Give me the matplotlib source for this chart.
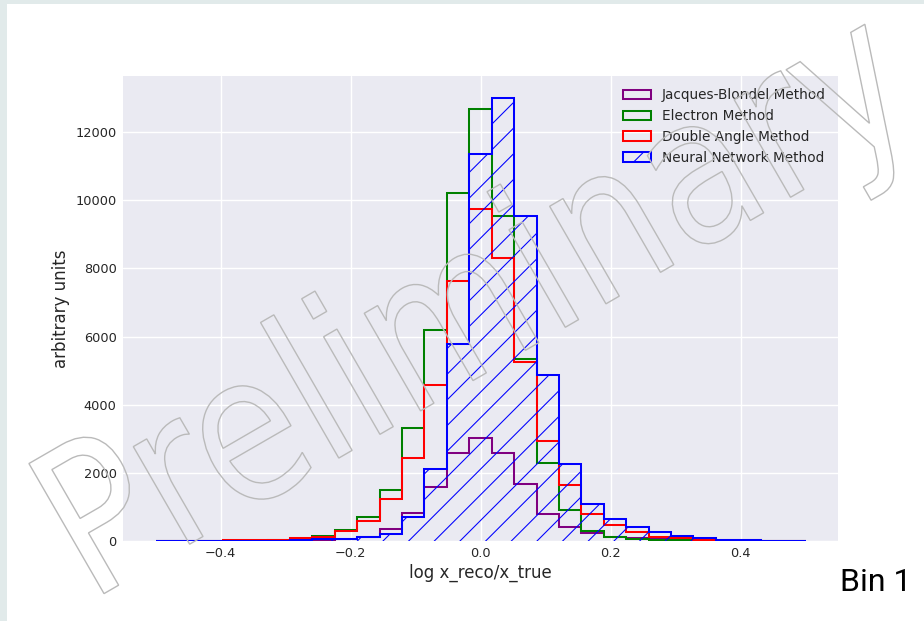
import numpy as np
import matplotlib
matplotlib.use("Agg")
import matplotlib.pyplot as plt
from matplotlib.textpath import TextPath
from matplotlib.patches import PathPatch, Rectangle
from matplotlib.font_manager import FontProperties
from matplotlib.transforms import Affine2D

# 29 bins over [-0.5, 0.5]
bin_edges = np.linspace(-0.5, 0.5, 30)

jacques_blondel = [0, 0, 0, 0, 0, 2, 10, 30, 60, 120, 352, 812, 1592, 2571, 3011,
                   2589, 1671, 806, 410, 235, 126, 79, 45, 25, 15, 8, 5, 3, 2]
electron = [0, 0, 2, 5, 10, 15, 30, 150, 320, 712, 1495, 3304, 6206, 10211, 12685,
            9528, 5356, 2278, 909, 293, 126, 67, 40, 25, 15, 10, 5, 3, 2]
double_angle = [3, 5, 10, 20, 25, 40, 79, 126, 302, 586, 1240, 2425, 4573, 7631, 9754,
                8305, 5257, 2937, 1653, 783, 469, 255, 126, 79, 40, 25, 15, 8, 5]
neural_net = [0, 0, 0, 0, 2, 10, 20, 50, 60, 126, 196, 712, 2102, 5775, 11366,
              12996, 9528, 4887, 2257, 1075, 633, 399, 255, 147, 79, 30, 15, 10, 5]

labels = ["Jacques-Blondel Method", "Electron Method", "Double Angle Method",
          "Neural Network Method"]

plt.style.use("seaborn-v0_8-darkgrid")
plt.rcParams["font.family"] = "DejaVu Sans"

W, H, DPI = 924, 621, 77
fig = plt.figure(figsize=(W / DPI, H / DPI), dpi=DPI, facecolor="#e1eaea")
# white page on top of the light screenshot border
fig.add_artist(Rectangle((7 / W, 0), 1, 1 - 4 / H, transform=fig.transFigure,
                         facecolor="white", edgecolor="none", zorder=-10))

ax = fig.add_axes([123 / W, 1 - 541 / H, (838 - 123) / W, (541 - 76) / H])
ax.set_facecolor("#eaeaf2")

centers = 0.5 * (bin_edges[:-1] + bin_edges[1:])
ax.hist(centers, bins=bin_edges, weights=jacques_blondel, histtype="step",
        color="purple", linewidth=1.9, label=labels[0])
ax.hist(centers, bins=bin_edges, weights=electron, histtype="step",
        color="green", linewidth=1.9, label=labels[1])
ax.hist(centers, bins=bin_edges, weights=double_angle, histtype="step",
        color="red", linewidth=1.9, label=labels[2])
ax.hist(centers, bins=bin_edges, weights=neural_net, histtype="step",
        color="blue", linewidth=1.9, hatch="/", label=labels[3])

ax.set_xlim(-0.55, 0.55)
ax.set_ylim(0, 13650)
ax.set_xticks([-0.4, -0.2, 0.0, 0.2, 0.4])
ax.set_yticks(range(0, 12001, 2000))
ax.grid(True, color="white", linewidth=1.3)
ax.tick_params(labelsize=12, length=0, pad=6, labelcolor="#262626")
for s in ax.spines.values():
    s.set_visible(False)

ax.set_xlabel("log x_reco/x_true", fontsize=15.5, color="#262626", labelpad=3)
ax.set_ylabel("arbitrary units", fontsize=15.5, color="#262626", labelpad=5)
ax.legend(loc="upper right", frameon=False, fontsize=12.8)

# outlined watermark, a bit narrower than plain DejaVu
tp = TextPath((0, 0), "Preliminary", size=206,
              prop=FontProperties(family="DejaVu Sans"))
wm_tr = Affine2D().scale(0.83, 1.0).rotate_deg(30).translate(89.5, 19)
wm = PathPatch(tp, transform=wm_tr, facecolor="none", edgecolor="#bababa",
               linewidth=1.3, zorder=10)
fig.add_artist(wm)

fig.text(840 / W, 30 / H, "Bin 1", fontsize=30, family="Roboto",
         va="baseline", color="black")

fig.savefig("out.png", dpi=DPI)
